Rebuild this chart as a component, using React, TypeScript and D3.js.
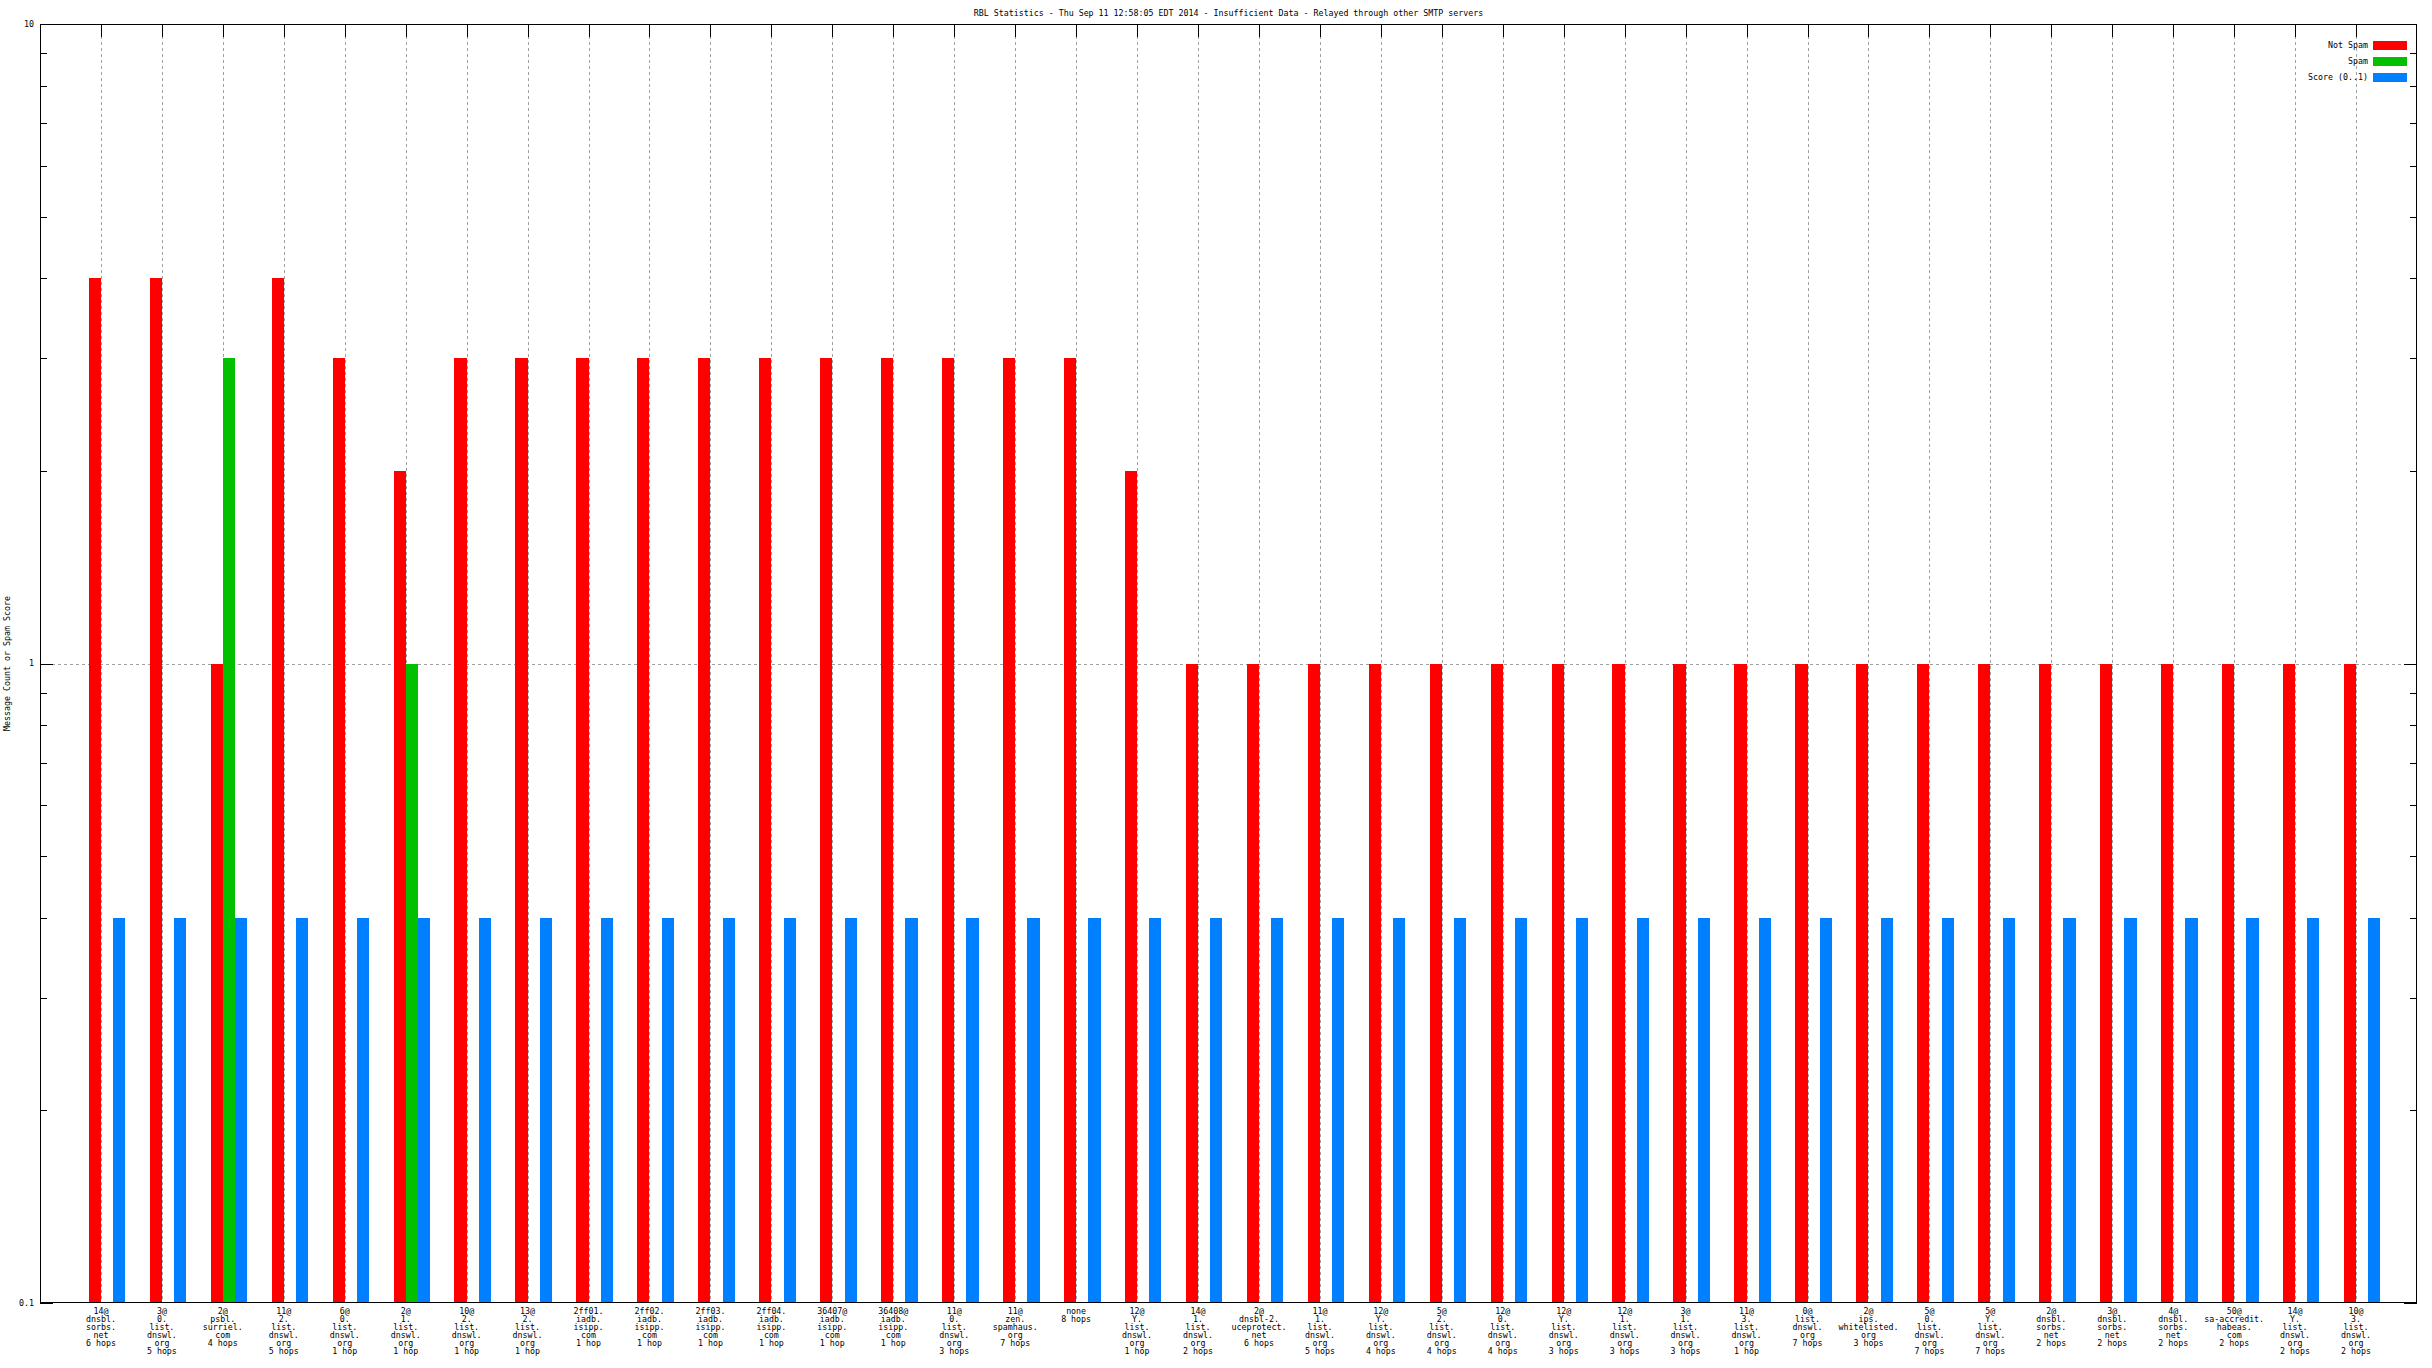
import React from "react";
import * as d3 from "d3";

const TITLE = "RBL Statistics - Thu Sep 11 12:58:05 EDT 2014 - Insufficient Data - Relayed through other SMTP servers";
const Y_LABEL = "Message Count or Spam Score";

const categories: string[] = [
  "14@|dnsbl.|sorbs.|net|6 hops",
  "3@|0.|list.|dnswl.|org|5 hops",
  "2@|psbl.|surriel.|com|4 hops",
  "11@|2.|list.|dnswl.|org|5 hops",
  "6@|0.|list.|dnswl.|org|1 hop",
  "2@|1.|list.|dnswl.|org|1 hop",
  "10@|2.|list.|dnswl.|org|1 hop",
  "13@|2.|list.|dnswl.|org|1 hop",
  "2ff01.|iadb.|isipp.|com|1 hop",
  "2ff02.|iadb.|isipp.|com|1 hop",
  "2ff03.|iadb.|isipp.|com|1 hop",
  "2ff04.|iadb.|isipp.|com|1 hop",
  "36407@|iadb.|isipp.|com|1 hop",
  "36408@|iadb.|isipp.|com|1 hop",
  "11@|0.|list.|dnswl.|org|3 hops",
  "11@|zen.|spamhaus.|org|7 hops",
  "none|8 hops",
  "12@|Y.|list.|dnswl.|org|1 hop",
  "14@|1.|list.|dnswl.|org|2 hops",
  "2@|dnsbl-2.|uceprotect.|net|6 hops",
  "11@|1.|list.|dnswl.|org|5 hops",
  "12@|Y.|list.|dnswl.|org|4 hops",
  "5@|2.|list.|dnswl.|org|4 hops",
  "12@|0.|list.|dnswl.|org|4 hops",
  "12@|Y.|list.|dnswl.|org|3 hops",
  "12@|1.|list.|dnswl.|org|3 hops",
  "3@|1.|list.|dnswl.|org|3 hops",
  "11@|3.|list.|dnswl.|org|1 hop",
  "0@|list.|dnswl.|org|7 hops",
  "2@|ips.|whitelisted.|org|3 hops",
  "5@|0.|list.|dnswl.|org|7 hops",
  "5@|Y.|list.|dnswl.|org|7 hops",
  "2@|dnsbl.|sorbs.|net|2 hops",
  "3@|dnsbl.|sorbs.|net|2 hops",
  "4@|dnsbl.|sorbs.|net|2 hops",
  "50@|sa-accredit.|habeas.|com|2 hops",
  "14@|Y.|list.|dnswl.|org|2 hops",
  "10@|3.|list.|dnswl.|org|2 hops",
];

const notSpam: number[] = [4, 4, 1, 4, 3, 2, 3, 3, 3, 3, 3, 3, 3, 3, 3, 3, 3, 2, 1, 1, 1, 1, 1, 1, 1, 1, 1, 1, 1, 1, 1, 1, 1, 1, 1, 1, 1, 1];
const spam: number[] = [0, 0, 3, 0, 0, 1, 0, 0, 0, 0, 0, 0, 0, 0, 0, 0, 0, 0, 0, 0, 0, 0, 0, 0, 0, 0, 0, 0, 0, 0, 0, 0, 0, 0, 0, 0, 0, 0];
const score: number[] = [0.4, 0.4, 0.4, 0.4, 0.4, 0.4, 0.4, 0.4, 0.4, 0.4, 0.4, 0.4, 0.4, 0.4, 0.4, 0.4, 0.4, 0.4, 0.4, 0.4, 0.4, 0.4, 0.4, 0.4, 0.4, 0.4, 0.4, 0.4, 0.4, 0.4, 0.4, 0.4, 0.4, 0.4, 0.4, 0.4, 0.4, 0.4];

const seriesNames = ["Not Spam", "Spam", "Score (0..1)"];
const seriesColors = ["#ff0000", "#00c000", "#0080ff"];
const yMajorTicks = [0.1, 1, 10];
const yTickLabels = ["0.1", "1", "10"];

const W = 2432, H = 1368;
const L = 40, R = 2417, T = 24, B = 1303;
const FONT = "'DejaVu Sans Mono', monospace";
const FS = 8.3;

export default function App() {
  const n = categories.length;
  const x = d3.scaleLinear().domain([-1, n]).range([L, R]);
  const y = d3.scaleLog().domain([0.1, 10]).range([B, T]);
  const bw = x(0.2) - x(0);
  const series = [notSpam, spam, score];
  const offsets = [-0.2, 0, 0.2];

  const minorTicks: number[] = [];
  [0.1, 1].forEach((d) => {
    for (let k = 2; k <= 9; k++) minorTicks.push(d * k);
  });

  return (
    <svg width={W} height={H} style={{ position: "absolute", left: 0, top: 0, background: "#fff" }}
      fontFamily={FONT} fontSize={FS}>
      <rect x={0} y={0} width={W} height={H} fill="#fff" />
      {/* vertical grid */}
      {categories.map((_, i) => (
        <line key={"vg" + i} x1={Math.round(x(i)) + 0.5} x2={Math.round(x(i)) + 0.5} y1={T} y2={B}
          stroke="#a0a0a0" strokeWidth={1} strokeDasharray="3,3" />
      ))}
      {/* horizontal grid at 1 */}
      <line x1={L} x2={R} y1={Math.round(y(1)) + 0.5} y2={Math.round(y(1)) + 0.5}
        stroke="#a0a0a0" strokeWidth={1} strokeDasharray="3,3" />
      {/* bars */}
      {series.map((vals, s) =>
        vals.map((v, i) =>
          v > 0 ? (
            <rect key={"b" + s + "-" + i}
              x={x(i + offsets[s])} width={bw}
              y={y(v)} height={B - y(v)}
              fill={seriesColors[s]} shapeRendering="crispEdges" />
          ) : null
        )
      )}
      {/* top x ticks */}
      {categories.map((_, i) => (
        <line key={"xt" + i} x1={Math.round(x(i)) + 0.5} x2={Math.round(x(i)) + 0.5} y1={T} y2={T + 13}
          stroke="#000" strokeWidth={1} />
      ))}
      {/* y ticks */}
      {yMajorTicks.map((t, i) => (
        <g key={"ym" + i}>
          <line x1={L} x2={L + 13} y1={Math.round(y(t)) + 0.5} y2={Math.round(y(t)) + 0.5} stroke="#000" />
          <line x1={R - 13} x2={R} y1={Math.round(y(t)) + 0.5} y2={Math.round(y(t)) + 0.5} stroke="#000" />
          <text x={34} y={y(t)} dy="0.35em" textAnchor="end" fill="#000">{yTickLabels[i]}</text>
        </g>
      ))}
      {minorTicks.map((t, i) => (
        <g key={"yn" + i}>
          <line x1={L} x2={L + 7} y1={Math.round(y(t)) + 0.5} y2={Math.round(y(t)) + 0.5} stroke="#000" />
          <line x1={R - 7} x2={R} y1={Math.round(y(t)) + 0.5} y2={Math.round(y(t)) + 0.5} stroke="#000" />
        </g>
      ))}
      {/* border */}
      <rect x={L + 0.5} y={T + 0.5} width={R - L - 1} height={B - T - 1} fill="none" stroke="#000" strokeWidth={1} />
      {/* x labels */}
      {categories.map((c, i) => (
        <text key={"xl" + i} x={x(i)} textAnchor="middle" fill="#000">
          {c.split("|").map((ln, j) => (
            <tspan key={j} x={x(i)} y={1311 + j * 8} dy="0.35em">{ln}</tspan>
          ))}
        </text>
      ))}
      {/* title */}
      <text x={(L + R) / 2} y={13} dy="0.35em" textAnchor="middle" fill="#000">{TITLE}</text>
      {/* y label */}
      <text transform={`translate(7,${y(1)}) rotate(-90)`} textAnchor="middle" dy="0.35em" fill="#000">{Y_LABEL}</text>
      {/* legend */}
      {seriesNames.map((nm, i) => (
        <g key={"lg" + i}>
          <text x={2368} y={45 + i * 16} dy="0.35em" textAnchor="end" fill="#000">{nm}</text>
          <rect x={2373} y={41 + i * 16} width={34} height={9} fill={seriesColors[i]} />
        </g>
      ))}
    </svg>
  );
}
